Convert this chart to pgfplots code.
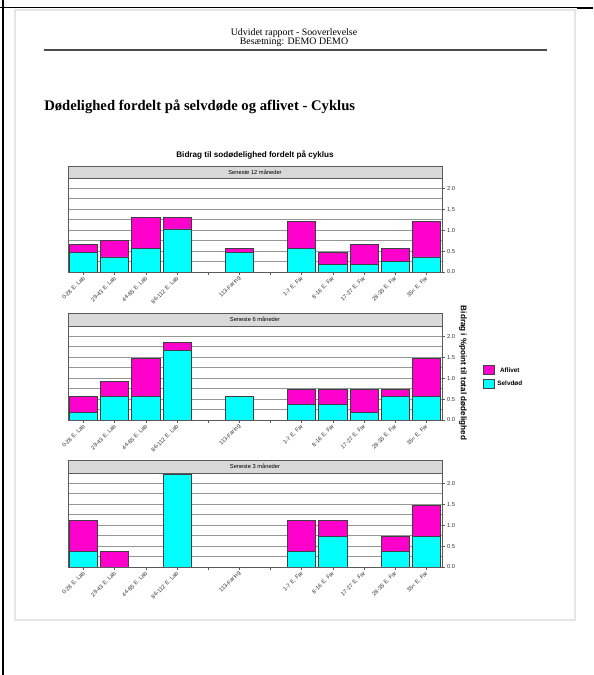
\documentclass[border=0pt]{standalone}
\usepackage{fontspec}
\setmainfont{Liberation Serif}
\setsansfont{Liberation Sans}
\usepackage{pgfplots}
\pgfplotsset{compat=1.18}
\usepackage{pgfplotstable}

\definecolor{aflivet}{RGB}{255,0,204}
\definecolor{selvdod}{RGB}{0,255,255}
\definecolor{stripgray}{RGB}{217,217,217}
\definecolor{gridgray}{RGB}{150,150,150}
\definecolor{framegray}{RGB}{90,90,90}
\definecolor{pageedge}{RGB}{230,230,230}

% x = slot, s = selvdoed, a = aflivet
\pgfplotstableread{
x s a
0 0.47 0.19
1 0.36 0.39
2 0.56 0.75
3 1.03 0.28
4 0 0
5 0.46 0.11
6 0 0
7 0.56 0.66
8 0.18 0.28
9 0.18 0.48
10 0.26 0.31
11 0.36 0.86
}\twelve

\pgfplotstableread{
x s a
0 0.185 0.37
1 0.555 0.37
2 0.555 0.925
3 1.665 0.185
4 0 0
5 0.555 0
6 0 0
7 0.37 0.37
8 0.37 0.37
9 0.185 0.555
10 0.555 0.185
11 0.555 0.925
}\six

\pgfplotstableread{
x s a
0 0.37 0.74
1 0 0.37
2 0 0
3 2.22 0
4 0 0
5 0 0
6 0 0
7 0.37 0.74
8 0.74 0.37
9 0 0
10 0.37 0.37
11 0.74 0.74
}\three

\def\ux{0.75pt}
\newcommand{\tinysans}{\sffamily\fontsize{4.3}{5}\selectfont}

\pgfplotsset{
  panel/.style={
    scale only axis, width=280.5pt, height=70.5pt,
    anchor=south west,
    ybar stacked, bar width=0.9,
    xmin=-0.5, xmax=11.5, ymin=0, ymax=2.25,
    xtick={0,...,11},
    xticklabels={0-28 E. Lab,29-43 E. Lab,44-85 E. Lab,86-112 E. Lab,,113-Faring,,1-7 E. Far,8-16 E. Far,17-27 E. Far,28-35 E. Far,35< E. Far},
    x tick label style={rotate=45, anchor=east, font=\tinysans, inner sep=1pt, yshift=-1.5pt, text=black!80},
    ytick={0,0.5,...,2}, minor ytick={0.25,0.75,...,2.25},
    yticklabel pos=right, ytick pos=right, xtick pos=bottom,
    yticklabel style={font=\tinysans, inner sep=1.5pt, text=black!80},
    /pgf/number format/.cd, fixed, fixed zerofill, precision=1, assume math mode=true,
    /pgfplots/.cd,
    tick align=outside, major tick length=2.2pt, minor tick length=0pt,
    tick style={framegray, line width=0.5pt},
    ymajorgrids, yminorgrids,
    major grid style={gridgray, line width=0.6pt},
    minor grid style={gridgray, line width=0.6pt},
    axis line style={framegray, line width=0.7pt},
    every axis plot/.append style={draw=black!75, line width=0.6pt},
    area legend,
  },
}

\begin{document}
\begin{tikzpicture}
\path[use as bounding box] (0,0) rectangle ({593*\ux},{675*\ux});

\begin{scope}[x=\ux, y=\ux]
  % page and frame
  \draw[pageedge, line width=1.6pt] (15,665) rectangle (575,55);
  \draw[black, line width=1.1pt] (0,667.5) -- (593,667.5);
  \draw[black, line width=2pt] (577,667) -- (593,667);
  \draw[black, line width=1.6pt] (3,0) -- (3,675);
  % header
  \node[font=\fontsize{7.4}{8}\selectfont, inner sep=0pt] at (294,642) {Udvidet rapport - Sooverlevelse};
  \node[font=\fontsize{7.4}{8}\selectfont, inner sep=0pt] at (294,633) {Besætning: DEMO DEMO};
  \draw[black!70, line width=0.8pt] (44,625) -- (547,625);
  \node[font=\bfseries\fontsize{11}{13}\selectfont, anchor=west, inner sep=0pt] at (44,568) {Dødelighed fordelt på selvdøde og aflivet - Cyklus};
  % chart title and y label
  \node[font=\sffamily\bfseries\fontsize{6.1}{7}\selectfont, inner sep=0pt] at (255,520) {Bidrag til sodødelighed fordelt på cyklus};
  \node[font=\sffamily\bfseries\fontsize{6.1}{7}\selectfont, inner sep=0pt, rotate=-90] at (463,302) {Bidrag i \%point til total dødelighed};
\end{scope}

% Seneste 12 maaneder
\begin{axis}[panel, name=ax1, at={({68*\ux},{403*\ux})}]
  \addplot[fill=selvdod] table[x=x, y=s] {\twelve};
  \addplot[fill=aflivet] table[x=x, y=a] {\twelve};
\end{axis}
\draw[fill=stripgray, draw=framegray, line width=0.7pt] (ax1.north west) rectangle ([yshift=8.5pt]ax1.north east);
\node[font=\tinysans, inner sep=0pt] at ([yshift=4.25pt]ax1.north) {Seneste 12 måneder};

% Seneste 6 maaneder
\begin{axis}[panel, name=ax2, at={({68*\ux},{255*\ux})},
  reverse legend,
  legend style={at={(1.097,0.45)}, anchor=west, draw=none, fill=none,
    font=\sffamily\bfseries\fontsize{4.8}{5}\selectfont, row sep=1pt,
    /tikz/every even column/.append style={column sep=1pt}},
  legend image code/.code={\draw[#1, draw=black!75, line width=0.6pt] (0cm,-0.1cm) rectangle (0.3cm,0.14cm);}]
  \addplot[fill=selvdod] table[x=x, y=s] {\six};
  \addplot[fill=aflivet] table[x=x, y=a] {\six};
  \legend{Selvdød, Aflivet}
\end{axis}
\draw[fill=stripgray, draw=framegray, line width=0.7pt] (ax2.north west) rectangle ([yshift=9.5pt]ax2.north east);
\node[font=\tinysans, inner sep=0pt] at ([yshift=4.75pt]ax2.north) {Seneste 6 måneder};

% Seneste 3 maaneder
\begin{axis}[panel, name=ax3, at={({68*\ux},{108*\ux})}]
  \addplot[fill=selvdod] table[x=x, y=s] {\three};
  \addplot[fill=aflivet] table[x=x, y=a] {\three};
\end{axis}
\draw[fill=stripgray, draw=framegray, line width=0.7pt] (ax3.north west) rectangle ([yshift=9.5pt]ax3.north east);
\node[font=\tinysans, inner sep=0pt] at ([yshift=4.75pt]ax3.north) {Seneste 3 måneder};
\end{tikzpicture}
\end{document}
